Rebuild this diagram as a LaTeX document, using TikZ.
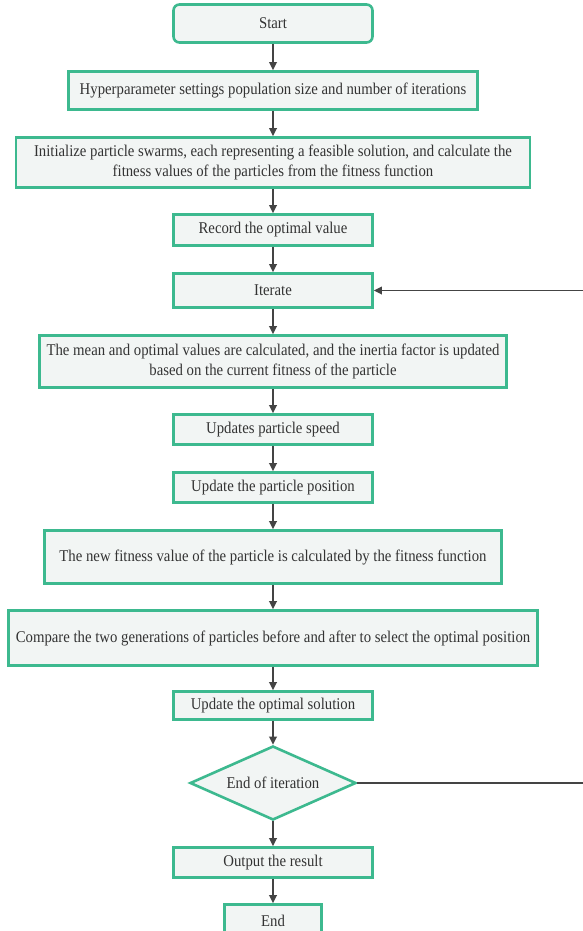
\documentclass[tikz,border=0pt]{standalone}
\usepackage{fontspec}
\setmainfont{Liberation Serif}[FakeStretch=0.9]
\usetikzlibrary{arrows.meta,shapes.geometric}
\definecolor{boxgreen}{HTML}{3DB98F}
\definecolor{boxfill}{HTML}{F2F5F4}
\definecolor{linegray}{HTML}{444444}
\definecolor{txtgray}{HTML}{333333}
\begin{document}
\begin{tikzpicture}[x=1pt,y=-1pt,
  every node/.style={font=\fontsize{16.4}{20}\selectfont, text=txtgray},
  procbox/.style={draw=boxgreen, fill=boxfill, line width=2.6pt, rectangle,
    align=center, inner sep=0pt},
  termbox/.style={procbox, rounded corners=6pt},
  decbox/.style={draw=boxgreen, fill=boxfill, line width=2.6pt, diamond,
    aspect=2.25, inner sep=0pt},
  arr/.style={draw=linegray, line width=1.8pt, -{Triangle[length=8pt,width=7.5pt]}},
  plain/.style={draw=linegray, line width=1.8pt}]
\useasboundingbox (0,0) rectangle (582,931);
\fill[white] (0,0) rectangle (582,931);

\node[termbox, minimum width=199, minimum height=38] (start) at (273,23.5) {Start};
\node[procbox, minimum width=409, minimum height=38] (hyp) at (273,90.5)
  {Hyperparameter settings population size and number of iterations};
\node[procbox, minimum width=514, minimum height=50] (init) at (273,162.5)
  {Initialize particle swarms, each representing a feasible solution, and calculate the\\
   fitness values of the particles from the fitness function};
\node[procbox, minimum width=199, minimum height=31] (rec) at (273,230) {Record the optimal value};
\node[procbox, minimum width=199, minimum height=34] (iter) at (273,290.5) {Iterate};
\node[procbox, minimum width=467, minimum height=52] (mean) at (273,361.5)
  {The mean and optimal values are calculated, and the inertia factor is updated\\
   based on the current fitness of the particle};
\node[procbox, minimum width=199, minimum height=30] (speed) at (273,429.5) {Updates particle speed};
\node[procbox, minimum width=199, minimum height=30] (pos) at (273,487.5) {Update the particle position};
\node[procbox, minimum width=457, minimum height=53] (newfit) at (273,557)
  {The new fitness value of the particle is calculated by the fitness function};
\node[procbox, minimum width=529, minimum height=55] (comp) at (273,638)
  {Compare the two generations of particles before and after to select the optimal position};
\node[procbox, minimum width=199, minimum height=28] (upd) at (273,705.5) {Update the optimal solution};
\node[decbox, minimum width=166, minimum height=74] (dia) at (273,783) {End of iteration};
\node[procbox, minimum width=199, minimum height=30] (out) at (273,862.5) {Output the result};
\node[procbox, minimum width=97, minimum height=32] (end) at (273,920.5) {End};

\draw[arr] (start.south) -- (hyp.north);
\draw[arr] (hyp.south) -- (init.north);
\draw[arr] (init.south) -- (rec.north);
\draw[arr] (rec.south) -- (iter.north);
\draw[arr] (iter.south) -- (mean.north);
\draw[arr] (mean.south) -- (speed.north);
\draw[arr] (speed.south) -- (pos.north);
\draw[arr] (pos.south) -- (newfit.north);
\draw[arr] (newfit.south) -- (comp.north);
\draw[arr] (comp.south) -- (upd.north);
\draw[arr] (upd.south) -- (dia.north);
\draw[arr] (dia.south) -- (out.north);
\draw[arr] (out.south) -- (end.north);

\coordinate (loopturn) at (592,783);
\draw[arr] (dia.east) -- (loopturn) |- (iter.east);
\end{tikzpicture}
\end{document}
